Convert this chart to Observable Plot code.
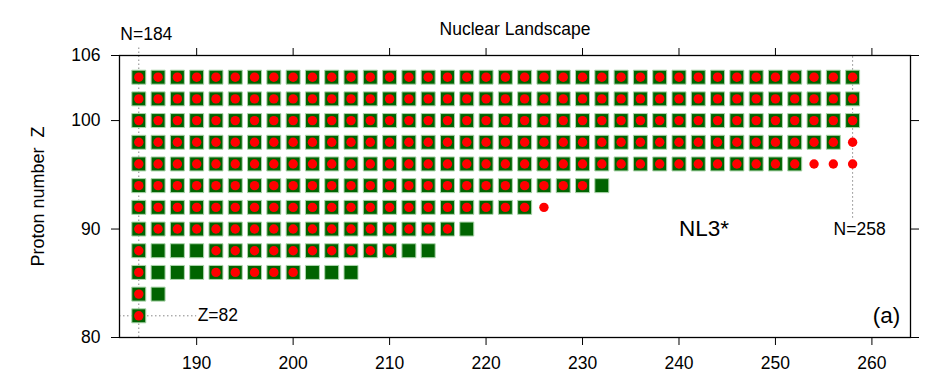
<!DOCTYPE html>
<html>
<head>
<meta charset="utf-8">
<script src="https://cdn.jsdelivr.net/npm/d3@7"></script>
<script src="https://cdn.jsdelivr.net/npm/@observablehq/plot@0.6"></script>
<style>
  html, body { margin: 0; padding: 0; background: #fff; }
  #chart svg { display: block; }
</style>
</head>
<body>
<div id="chart"></div>
<script>
// ---- Data ----
// Proton number Z of each row of the chart (even Z)
const rowZ = [104, 102, 100, 98, 96, 94, 92, 90, 88, 86, 84, 82];
// Green squares: every even N from firstN to lastN in each row
const squareFirstN = [184, 184, 184, 184, 184, 184, 184, 184, 184, 184, 184, 184];
const squareLastN  = [258, 258, 258, 256, 252, 232, 224, 218, 214, 206, 186, 184];
// Red dots: ranges [Z, fromN, toN] (even N)
const dotRanges = [
  [104, 184, 258], [102, 184, 258], [100, 184, 258], [98, 184, 258],
  [96, 184, 258], [94, 184, 230], [92, 184, 226], [90, 184, 216],
  [88, 184, 184], [88, 192, 210], [86, 184, 184], [86, 192, 200],
  [84, 184, 184], [82, 184, 184]
];
// Axis ticks
const xTicks = [190, 200, 210, 220, 230, 240, 250, 260];
const yTicks = [80, 90, 100, 106];
// Magic numbers marked in the chart
const magicN = [184, 258];
const magicZ = [82];

// ---- Build tables ----
const squares = [];
rowZ.forEach((z, i) => {
  for (let n = squareFirstN[i]; n <= squareLastN[i]; n += 2) squares.push({N: n, Z: z});
});
const dots = [];
dotRanges.forEach(([z, a, b]) => {
  for (let n = a; n <= b; n += 2) dots.push({N: n, Z: z});
});

const font = "'Liberation Sans', Arial, Helvetica, sans-serif";
const fs = 17.5;
const dotted = {stroke: "#888", strokeWidth: 1, strokeDasharray: "1.5,2.5"};

const chart = Plot.plot({
  width: 937,
  height: 382,
  marginLeft: 119,
  marginRight: 27,
  marginTop: 55,
  marginBottom: 45,
  style: {fontFamily: font, fontSize: fs + "px", background: "#fff", color: "#000"},
  x: {domain: [182, 264]},
  y: {domain: [80, 106]},
  marks: [
    // dotted guide lines
    Plot.ruleX([magicN[0]], {y1: 80, y2: 106.9, ...dotted, clip: false}),
    Plot.ruleX([magicN[1]], {y1: 91, y2: 106, ...dotted}),
    Plot.ruleY([magicZ[0]], {x1: 182, x2: 190, ...dotted}),
    // squares and dots
    Plot.dot(squares, {x: "N", y: "Z", symbol: "square", r: 7.9, fill: "#006400", stroke: "#acd6ac", strokeWidth: 1}),
    Plot.dot(dots, {x: "N", y: "Z", r: 4.7, fill: "#ff0000", stroke: "none"}),
    // frame and axes
    Plot.frame({stroke: "#000", strokeWidth: 1.3}),
    Plot.axisX({anchor: "bottom", ticks: xTicks, tickSize: 8, tickPadding: 11, label: null, fontSize: fs}),
    Plot.axisX({anchor: "top", ticks: xTicks, tickSize: 8, tickFormat: () => "", label: null}),
    Plot.axisY({anchor: "left", ticks: yTicks, tickSize: 8, tickPadding: 11, label: null, fontSize: fs}),
    Plot.axisY({anchor: "right", ticks: yTicks, tickSize: 8, tickFormat: () => "", label: null}),
    // texts
    Plot.text(["Nuclear Landscape"], {frameAnchor: "top", dy: -26.6, textAnchor: "middle", lineAnchor: "middle", fontSize: fs}),
    Plot.text(["Proton number\u00a0\u00a0Z"], {frameAnchor: "left", dx: -81, rotate: -90, textAnchor: "middle", lineAnchor: "middle", fontSize: 18}),
    Plot.text([{N: magicN[0], t: "N=" + magicN[0]}], {x: "N", frameAnchor: "top", dy: -21, dx: -18.5, textAnchor: "start", lineAnchor: "middle", text: "t", fontSize: fs}),
    Plot.text([{N: magicN[1], Z: 90, t: "N=" + magicN[1]}], {x: "N", y: "Z", dx: 7, text: "t", fontSize: fs}),
    Plot.text([{N: 190, Z: magicZ[0], t: "Z=" + magicZ[0]}], {x: "N", y: "Z", dx: 1, textAnchor: "start", text: "t", fontSize: fs}),
    Plot.text([{N: 242.6, Z: 90, t: "NL3*"}], {x: "N", y: "Z", text: "t", fontSize: 22.5}),
    Plot.text([{N: 261.5, Z: 82, t: "(a)"}], {x: "N", y: "Z", text: "t", fontSize: 22.5})
  ]
});
document.getElementById("chart").appendChild(chart);
</script>
</body>
</html>
